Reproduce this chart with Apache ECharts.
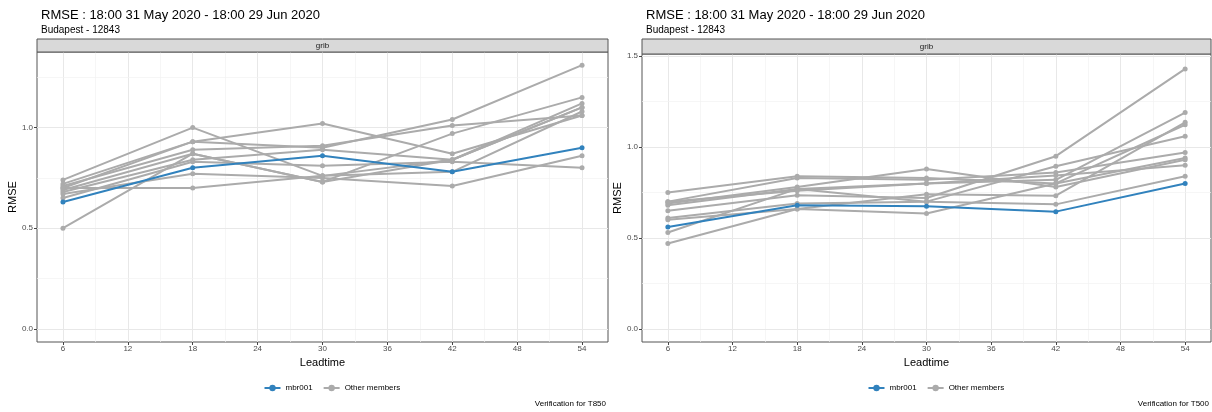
<!DOCTYPE html>
<html>
<head>
<meta charset="utf-8">
<script src="https://cdn.jsdelivr.net/npm/echarts@6/dist/echarts.min.js"></script>
<style>
html,body{margin:0;padding:0;background:#fff;}
#main{width:1212px;height:412px;}
</style>
</head>
<body>
<div id="main"></div>
<script>
// ---- data ----
const titleText = 'RMSE : 18:00 31 May 2020 - 18:00 29 Jun 2020';
const subtitleText = 'Budapest - 12843';
const stripText = 'grib';
const leadtimes = [6, 18, 30, 42, 54];
const xTickLabels = [6, 12, 18, 24, 30, 36, 42, 48, 54];
const xMinorGrid = [9, 15, 21, 27, 33, 39, 45, 51];
const yTickLabels = [0.0, 0.5, 1.0, 1.5];

// T850 (left)
const t850_mbr001 = [0.63, 0.80, 0.86, 0.78, 0.90];
const t850_others = [
  [0.74, 1.00, 0.76, 0.84, 1.10],
  [0.72, 0.93, 1.02, 0.87, 1.06],
  [0.70, 0.93, 0.90, 1.04, 1.31],
  [0.71, 0.89, 0.91, 1.01, 1.06],
  [0.69, 0.87, 0.73, 0.97, 1.15],
  [0.68, 0.84, 0.89, 0.84, 1.12],
  [0.65, 0.83, 0.81, 0.83, 0.80],
  [0.67, 0.77, 0.75, 0.71, 0.86],
  [0.50, 0.87, 0.73, 0.84, 1.10],
  [0.70, 0.70, 0.76, 0.78, 1.08]
];
// T500 (right)
const t500_mbr001 = [0.56, 0.68, 0.675, 0.645, 0.80];
const t500_others = [
  [0.75, 0.84, 0.83, 0.80, 0.94],
  [0.70, 0.83, 0.82, 0.86, 0.97],
  [0.69, 0.78, 0.88, 0.78, 0.93],
  [0.68, 0.77, 0.80, 0.82, 1.19],
  [0.65, 0.735, 0.72, 0.95, 1.43],
  [0.61, 0.69, 0.70, 0.895, 1.06],
  [0.60, 0.66, 0.74, 0.733, 1.136],
  [0.53, 0.77, 0.70, 0.685, 0.84],
  [0.47, 0.66, 0.635, 0.80, 1.123],
  [0.70, 0.76, 0.80, 0.844, 0.90]
];
const captions = ['Verification for T850', 'Verification for T500'];
const legendNames = ['mbr001', 'Other members'];

// ---- styles / layout ----
const BLUE = '#3182bd';
const GREY = '#ababab';
const FONT = 'Liberation Sans, Arial, sans-serif';

const panels = [
  {grid: {left: 37, top: 52, width: 571, height: 290}, yMin: -0.0655, yMax: 1.3755,
   mbr: t850_mbr001, others: t850_others, caption: captions[0], stripTop: 39},
  {grid: {left: 642, top: 54, width: 569, height: 288}, yMin: -0.072, yMax: 1.512,
   mbr: t500_mbr001, others: t500_others, caption: captions[1], stripTop: 39}
];

const option = {
  animation: false,
  backgroundColor: '#ffffff',
  textStyle: {fontFamily: FONT},
  title: [], legend: [], grid: [], xAxis: [], yAxis: [], series: [], graphic: []
};

panels.forEach((p, i) => {
  const g = p.grid;
  const yMax = p.yMax;
  const yTicks = yTickLabels.filter(v => v <= yMax);
  const yMinor = [0.25, 0.75, 1.25].filter(v => v <= yMax);

  option.title.push({
    text: titleText, subtext: subtitleText,
    left: g.left - 1, top: 4, itemGap: 3,
    textStyle: {fontSize: 13, fontWeight: 'normal', color: '#000', fontFamily: FONT},
    subtextStyle: {fontSize: 10, color: '#000', fontFamily: FONT}
  });
  option.grid.push({
    left: g.left, top: g.top, width: g.width, height: g.height,
    show: true, backgroundColor: '#fff', borderColor: '#555', borderWidth: 1,
    containLabel: false, outerBoundsMode: 'none'
  });
  option.xAxis.push({
    type: 'value', gridIndex: i, min: 3.6, max: 56.4, position: 'bottom',
    name: 'Leadtime', nameLocation: 'middle', nameGap: 13,
    nameTextStyle: {fontSize: 11, color: '#000', fontFamily: FONT},
    axisLine: {show: false, onZero: false},
    axisTick: {show: true, length: 3, customValues: xTickLabels, lineStyle: {color: '#444'}},
    axisLabel: {show: true, customValues: xTickLabels, fontSize: 8, color: '#4d4d4d', margin: 3, fontFamily: FONT},
    splitLine: {show: false}
  });
  option.yAxis.push({
    type: 'value', gridIndex: i, min: p.yMin, max: p.yMax, position: 'left',
    name: 'RMSE', nameLocation: 'middle', nameGap: 19, nameRotate: 90,
    nameTextStyle: {fontSize: 11, color: '#000', fontFamily: FONT},
    axisLine: {show: false, onZero: false},
    axisTick: {show: true, length: 3, customValues: yTicks, lineStyle: {color: '#444'}},
    axisLabel: {show: true, customValues: yTicks, fontSize: 8, color: '#4d4d4d', margin: 4,
      formatter: v => Number(v).toFixed(1), fontFamily: FONT},
    splitLine: {show: false}
  });

  // gridlines
  const gridLineData = [];
  xTickLabels.forEach(v => gridLineData.push({xAxis: v, lineStyle: {color: '#e8e8e8', width: 1, type: 'solid'}}));
  xMinorGrid.forEach(v => gridLineData.push({xAxis: v, lineStyle: {color: '#f2f2f2', width: 0.7, type: 'solid'}}));
  yTicks.forEach(v => gridLineData.push({yAxis: v, lineStyle: {color: '#e8e8e8', width: 1, type: 'solid'}}));
  yMinor.forEach(v => gridLineData.push({yAxis: v, lineStyle: {color: '#f2f2f2', width: 0.7, type: 'solid'}}));
  option.series.push({
    type: 'line', name: '_grid' + i, xAxisIndex: i, yAxisIndex: i, data: [], silent: true, z: 0,
    markLine: {silent: true, symbol: 'none', label: {show: false}, animation: false, z: 0, data: gridLineData}
  });

  p.others.forEach(arr => {
    option.series.push({
      type: 'line', name: legendNames[1], xAxisIndex: i, yAxisIndex: i, z: 2,
      data: leadtimes.map((x, k) => [x, arr[k]]),
      symbol: 'circle', symbolSize: 5,
      lineStyle: {color: GREY, width: 2}, itemStyle: {color: GREY}
    });
  });
  option.series.push({
    type: 'line', name: legendNames[0], xAxisIndex: i, yAxisIndex: i, z: 3,
    data: leadtimes.map((x, k) => [x, p.mbr[k]]),
    symbol: 'circle', symbolSize: 5,
    lineStyle: {color: BLUE, width: 2}, itemStyle: {color: BLUE}
  });

  option.legend.push({
    data: legendNames, left: g.left + g.width / 2 - 64, top: 379,
    itemWidth: 16, itemHeight: 8, itemGap: 10,
    textStyle: {fontSize: 8, color: '#000', fontFamily: FONT}
  });

  // strip
  option.graphic.push({
    type: 'rect', z: 10,
    shape: {x: g.left, y: p.stripTop, width: g.width, height: g.top - p.stripTop},
    style: {fill: '#d9d9d9', stroke: '#555', lineWidth: 1}
  });
  option.graphic.push({
    type: 'text', z: 11,
    x: g.left + g.width / 2, y: (p.stripTop + g.top) / 2,
    style: {text: stripText, fill: '#1a1a1a', font: '8px ' + FONT, align: 'center', verticalAlign: 'middle'}
  });
  option.graphic.push({
    type: 'text', z: 11,
    x: g.left + g.width - 2, y: 404,
    style: {text: p.caption, fill: '#000', font: '8px ' + FONT, align: 'right', verticalAlign: 'middle'}
  });
});

const chart = echarts.init(document.getElementById('main'), null, {renderer: 'canvas'});
chart.setOption(option);
</script>
</body>
</html>
